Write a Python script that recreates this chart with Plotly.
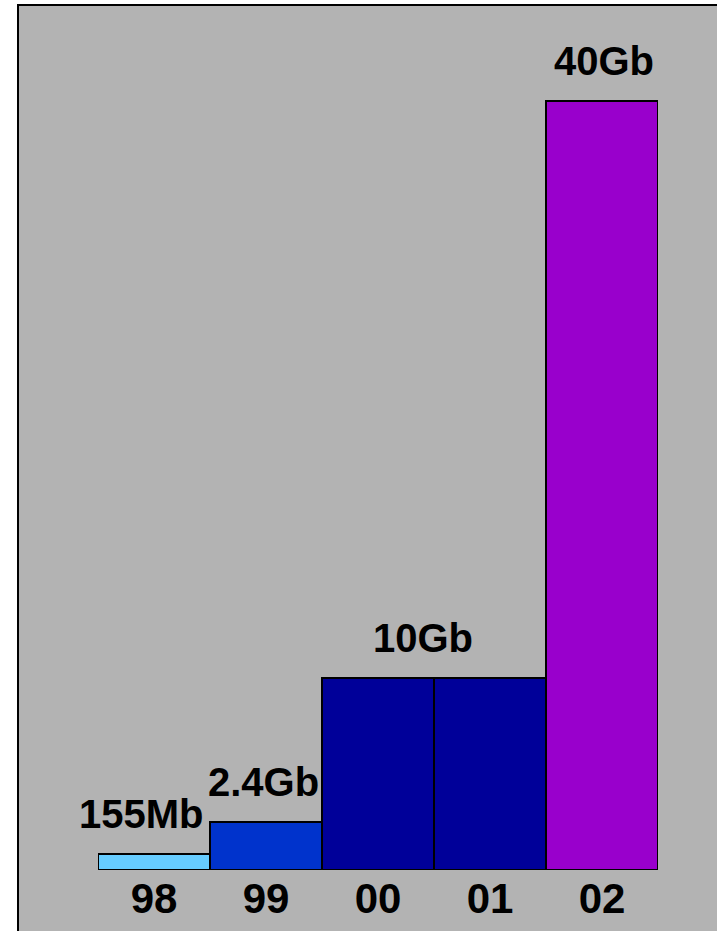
import plotly.graph_objects as go

# ---- data ----
years = ["98", "99", "00", "01", "02"]
bar_heights = [0.83, 2.5, 10, 10, 40]          # relative bar heights
bar_colors = ["#66ccff", "#0033cc", "#000099", "#000099", "#9900cc"]
label_texts = ["155Mb", "2.4Gb", "10Gb", "40Gb"]
label_years = ["98", "99", "00", "02"]          # bar each label sits above
label_xshift = [-13, -3, 45, 2]                 # px offsets (style)

W, H = 717, 931
L, R, T, B = 98, 59, 82, 61
YMAX = 41
FS = 40
TFS = 42

FONT = "Liberation Sans, Arial"

fig = go.Figure()
fig.add_trace(go.Bar(
    x=years, y=bar_heights,
    marker=dict(color=bar_colors, line=dict(color="black", width=2)),
    width=1.0, cliponaxis=False, hoverinfo="skip",
))

for txt, yr, dx in zip(label_texts, label_years, label_xshift):
    i = years.index(yr)
    fig.add_annotation(x=i, y=bar_heights[i], text="<b>%s</b>" % txt, showarrow=False,
                       xref="x", yref="y",
                       xanchor="center", yanchor="bottom", xshift=dx, yshift=16,
                       font=dict(family=FONT, size=FS, color="black"))

pw = W - L - R
ph = H - T - B
def px2x(p):
    return (p - L) / pw
def py2y(p):
    return (H - B - p) / ph

fig.add_shape(type="rect", xref="paper", yref="paper",
              x0=px2x(18), x1=px2x(725), y0=py2y(940), y1=py2y(5),
              fillcolor="#b3b3b3", line=dict(color="black", width=2), layer="below")

fig.update_layout(
    width=W, height=H, margin=dict(l=L, r=R, t=T, b=B, pad=0, autoexpand=False),
    paper_bgcolor="white", plot_bgcolor="rgba(0,0,0,0)",
    showlegend=False, bargap=0,
    font=dict(family=FONT, size=FS, color="black"),
)
fig.update_xaxes(showgrid=False, zeroline=False, showline=False, ticks="",
                 automargin=False,
                 tickfont=dict(family=FONT, size=TFS, color="black", weight="bold"),
                 range=[-0.5, 4.5], fixedrange=True)
fig.update_yaxes(visible=False, range=[0, YMAX], fixedrange=True, automargin=False)

fig.write_html("out.html")
